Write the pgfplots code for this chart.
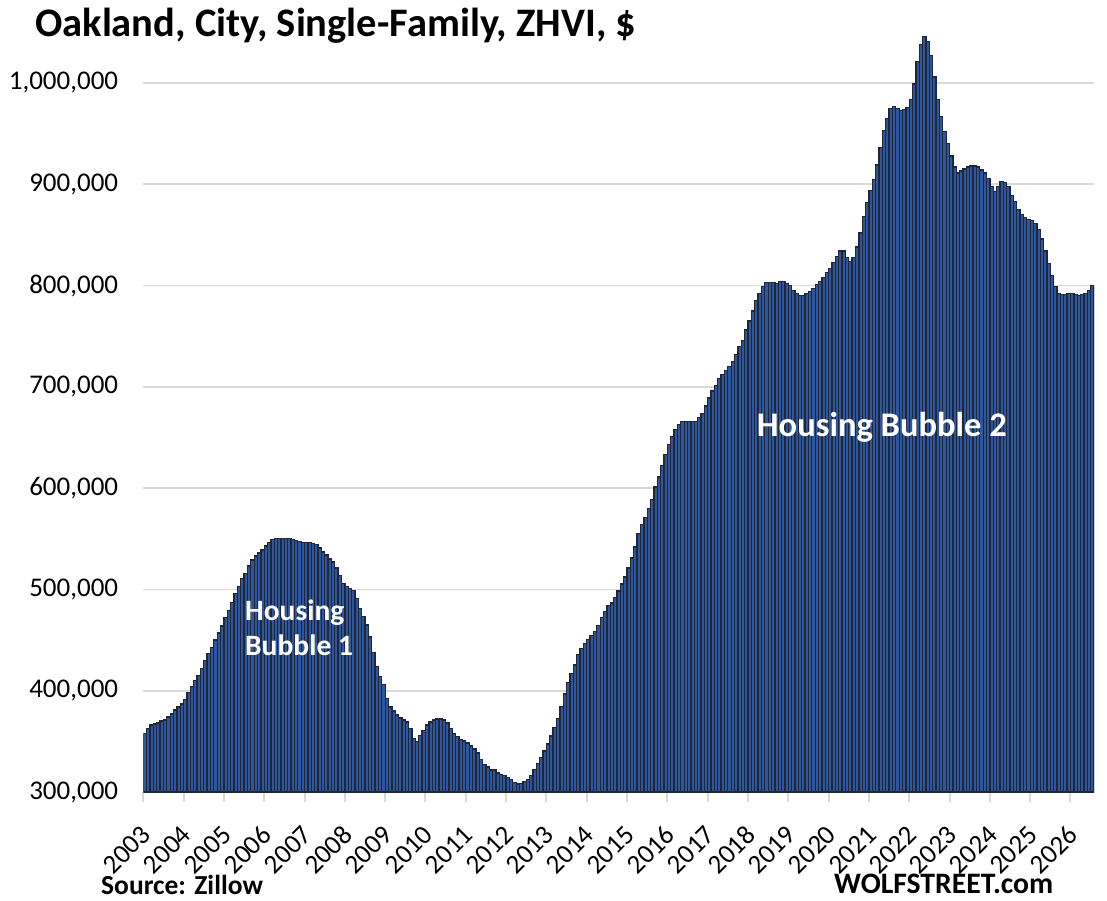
\documentclass[border=0pt]{standalone}
\usepackage{fontspec}
\setmainfont{Carlito}
\usepackage{pgfplots}
\usepackage{pgfplotstable}
\pgfplotsset{compat=1.18}
\definecolor{barfill}{RGB}{46,86,156}
\definecolor{barline}{RGB}{31,38,56}
\definecolor{gridc}{RGB}{217,217,217}
\pgfplotstableread{
v
358
363
366
367
368
370
371
374
377
381
384
387
391
398
404
410
415
422
430
437
443
450
457
464
472
479
487
496
503
511
516
523
529
533
536
539
543
546
549
550
550
550
550
550
549
548
547
546
546
546
545
544
541
537
534
530
527
521
514
506
503
501
499
491
481
473
465
453
438
424
414
406
392
384
380
376
373
371
369
363
353
350
356
361
366
369
371
372
372
371
368
363
358
355
352
350.5
348.5
345.5
342.6
338.6
332.3
327
324.8
321.8
321.8
318.8
317.2
316.2
314.2
312.2
309.6
307.9
308.3
310.2
312.2
316.2
322.1
328
334
340.6
347.5
355.4
363.7
372.6
384.2
396.7
408.3
417.2
425.4
436
441.6
446.9
450.8
454.8
458.4
464.7
472.6
478.2
483.8
486.5
491.7
498.3
505.3
512.2
521
531
542
555
564
571
580
589
601
611
622
633
643
651
658
663
666
666
666
666
666
670
674
681
689
696
701
708
712
716
720
725
732
740
746
756
765
775
785
792
799
803
803
803
802
804
804
802
800
795
792
790
790
792
794
797
801
804
808
813
817
823
829
834
834
828
824
828
838
852
868
882
894
905
919
936
953
965
975
977
975
973
974
976
984
999
1021
1038
1046
1041
1027
1006
984
967
952
940
928
917
911
913
915
917
918
918
917
914
911
906
898
893
898
903
902
898
889
883
875
870
867
865
864
861
855
846
834
822
810
799
792
791
791
792
792
791
790
791
792
795
800
}\oak
\begin{document}
\begin{tikzpicture}[x=1pt,y=1pt]
\path[use as bounding box] (0,0) rectangle (1107,900);
\begin{axis}[
  at={(143.3pt,108pt)}, anchor=south west,
  scale only axis, width=950.7pt, height=759.7pt,
  xmin=-0.5, xmax=282.5, ymin=300, ymax=1050,
  axis x line*=bottom, axis y line*=left,
  y axis line style={draw=none},
  x axis line style={draw=gridc, line width=2pt, -},
  xtick={-0.5,11.5,23.5,35.5,47.5,59.5,71.5,83.5,95.5,107.5,119.5,131.5,143.5,155.5,167.5,179.5,191.5,203.5,215.5,227.5,239.5,251.5,263.5,275.5},
  xticklabels={2003,2004,2005,2006,2007,2008,2009,2010,2011,2012,2013,2014,2015,2016,2017,2018,2019,2020,2021,2022,2023,2024,2025,2026},
  tick align=outside,
  major tick length=10pt,
  xtick style={draw=gridc, line width=2pt},
  ytick style={draw=none},
  ytick={300,400,500,600,700,800,900,1000},
  yticklabels={{300,000},{400,000},{500,000},{600,000},{700,000},{800,000},{900,000},{1,000,000}},
  ymajorgrids,
  grid style={draw=gridc, line width=1.6pt},
  xticklabel style={rotate=45, anchor=east, inner sep=0pt, xshift=4pt, font=\fontsize{27}{32}\selectfont},
  xticklabel shift=31pt,
  yticklabel style={anchor=east, inner sep=0pt, font=\fontsize{27}{32}\selectfont},
  yticklabel shift=15pt,
  clip=true,
]
\addplot[ybar, bar width=1, fill=barfill, draw=barline, line width=1.3pt] table[x expr=\coordindex, y=v] {\oak};
\node[anchor=north west, inner sep=0pt, align=left, text=white, font=\bfseries\fontsize{29.5}{35}\selectfont] at (axis cs:29.77,489.6) {Housing\\Bubble 1};
\node[anchor=base west, inner sep=0pt, text=white, font=\bfseries\fontsize{34.5}{40}\selectfont] at (axis cs:182.1,650.5) {Housing Bubble 2};
\end{axis}
\node[anchor=base west, inner sep=0pt, font=\bfseries\fontsize{27.5}{32}\selectfont] at (101,6) {Source: Zillow};
\node[anchor=base west, inner sep=0pt, font=\bfseries\fontsize{29.7}{34}\selectfont] at (834,7) {WOLFSTREET.com};
\node[anchor=base west, inner sep=0pt, font=\bfseries\fontsize{40.5}{48}\selectfont] at (35,863) {Oakland, City, Single-Family, ZHVI, \$};
\end{tikzpicture}
\end{document}
